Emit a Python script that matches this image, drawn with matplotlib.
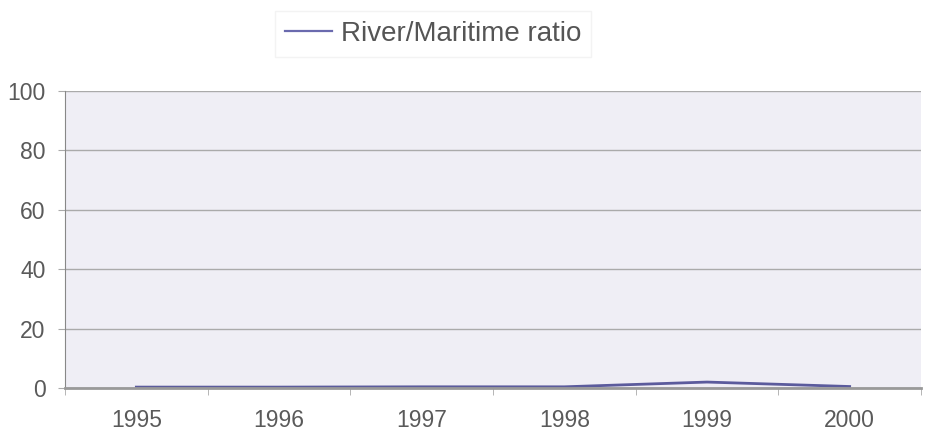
import numpy as np
import matplotlib.pyplot as plt

plt.rcParams['font.family'] = ['Liberation Sans', 'DejaVu Sans']

# data
years = ['1995', '1996', '1997', '1998', '1999', '2000']
ratio = [0.3, 0.3, 0.4, 0.4, 2.0, 0.5]
yticks = [0, 20, 40, 60, 80, 100]

fig = plt.figure(figsize=(9.25, 4.36), dpi=100)
ax = fig.add_axes([65 / 925, 1 - 388 / 436, 856 / 925, 297 / 436])
ax.set_facecolor('#efeef5')

x = np.arange(len(years))
line, = ax.plot(x, ratio, color='#5b5b9c', lw=2, label='River/Maritime ratio')

ax.set_xlim(-0.5, len(years) - 0.5)
ax.set_ylim(0, 100)
ax.set_yticks(yticks)
ax.set_xticks(x)
ax.set_xticklabels(years)
# ticks between categories
ax.set_xticks(np.arange(-0.5, len(years)), minor=True)
ax.tick_params(axis='x', which='major', length=0, pad=15)
ax.tick_params(axis='x', which='minor', length=5, color='#aaaaaa')
ax.tick_params(axis='y', length=5, color='#aaaaaa', pad=9)
ax.tick_params(labelsize=16.5, labelcolor='#5a5a5a')
ax.grid(axis='y', color='#aaaaaa', lw=1)
ax.set_axisbelow(True)

for s in ['top', 'right']:
    ax.spines[s].set_visible(False)
ax.spines['left'].set_color('#888888')
ax.spines['bottom'].set_color('#999999')
ax.spines['bottom'].set_linewidth(2)

leg = fig.legend(handles=[line], loc='center', bbox_to_anchor=(0.468, 0.922),
                 fontsize=20, frameon=True, fancybox=False, edgecolor='#f0f0f0',
                 labelcolor='#555555', handlelength=1.7, handletextpad=0.32,
                 borderpad=0.35)
leg.get_lines()[0].set_color('#6a6aae')
leg.get_lines()[0].set_linewidth(1.6)

fig.savefig('out.png', dpi=100)
